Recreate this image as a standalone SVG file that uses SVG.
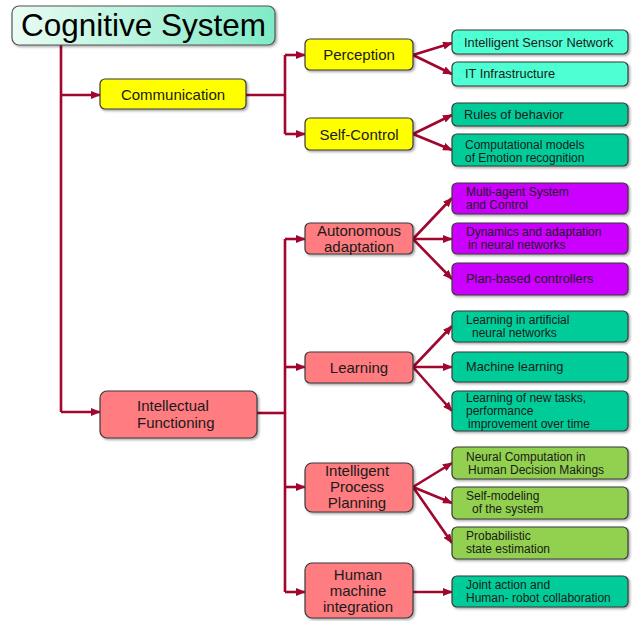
<svg xmlns="http://www.w3.org/2000/svg" width="635" height="621" viewBox="0 0 635 621">
<style>
.box{stroke:#3a3a3a;stroke-width:1.2;filter:url(#sh)}
.yel{fill:#FFFF00}
.pink{fill:#FF7C80}
.cyan{fill:#4DFFD2}
.teal{fill:#00CC99}
.mag{fill:#CC00FF}
.grn{fill:#92D050}
.t{font-family:"Liberation Sans",Arial,sans-serif;fill:#1a1a1a}
.mid{font-size:15px;text-anchor:middle}
.ch{font-size:12.8px}
.ch2{font-size:12px}
.c{fill:none;stroke:#A0062E;stroke-width:2.6}
.a{fill:none;stroke:#A0062E;stroke-width:2.6;marker-end:url(#ah)}
</style>
<defs>
<linearGradient id="tg" x1="0" y1="0" x2="1" y2="0">
<stop offset="0" stop-color="#EAFBF3"/>
<stop offset="1" stop-color="#7EEBC6"/>
</linearGradient>
<marker id="ah" markerWidth="10" markerHeight="8" refX="9" refY="4" orient="auto" markerUnits="userSpaceOnUse">
<path d="M0,0 L10,4 L0,8 Z" fill="#A0062E"/>
</marker>
<filter id="sh" x="-10%" y="-10%" width="125%" height="140%">
<feDropShadow dx="1.5" dy="1.5" stdDeviation="1" flood-color="#000" flood-opacity="0.35"/>
</filter>
</defs>

<g id="connectors">
<polyline class="c" points="61,45 61,412"/>
<polyline class="a" points="61,95 100,95"/>
<polyline class="a" points="61,412 100,412"/>
<polyline class="c" points="246,95 285,95"/>
<polyline class="c" points="285,55 285,134"/>
<polyline class="a" points="285,55 305,55"/>
<polyline class="a" points="285,134 305,134"/>
<polyline class="a" points="413,55 452,43"/>
<polyline class="a" points="413,55 452,74"/>
<polyline class="a" points="413,134 452,115"/>
<polyline class="a" points="413,134 452,150"/>
<polyline class="c" points="257,413 285,413"/>
<polyline class="c" points="285,239 285,592"/>
<polyline class="a" points="285,239 305,239"/>
<polyline class="a" points="285,367 305,367"/>
<polyline class="a" points="285,487 305,487"/>
<polyline class="a" points="285,592 305,592"/>
<polyline class="a" points="413,239 452,198"/>
<polyline class="a" points="413,239 452,239"/>
<polyline class="a" points="413,239 452,279"/>
<polyline class="a" points="413,367 452,326"/>
<polyline class="a" points="413,367 452,367"/>
<polyline class="a" points="413,367 452,411"/>
<polyline class="a" points="413,487 452,463"/>
<polyline class="a" points="413,487 452,503"/>
<polyline class="a" points="413,487 452,543"/>
<polyline class="a" points="413,592 452,592"/>
</g>

<g id="cognitive-system">
<rect x="12" y="6" width="263" height="39" rx="7" fill="url(#tg)" stroke="#555" stroke-width="1.2" filter="url(#sh)"/>
<text x="143.5" y="36" font-family="Liberation Sans, Arial, sans-serif" font-size="31.5" fill="#000" text-anchor="middle">Cognitive System</text>
</g>

<g id="communication">
<rect class="box yel" x="100" y="79" width="146" height="30" rx="5"/>
<text class="t mid" x="173" y="100">Communication</text>
</g>

<g id="perception">
<rect class="box yel" x="305" y="39" width="108" height="31" rx="5"/>
<text class="t mid" x="359" y="60">Perception</text>
</g>

<g id="self-control">
<rect class="box yel" x="305" y="118" width="108" height="32" rx="5"/>
<text class="t mid" x="359" y="140">Self-Control</text>
</g>

<g id="intelligent-sensor-network">
<rect class="box cyan" x="452" y="30" width="176" height="24" rx="5"/>
<text class="t ch" x="464" y="47">Intelligent  Sensor Network</text>
</g>

<g id="it-infrastructure">
<rect class="box cyan" x="452" y="62" width="176" height="24" rx="5"/>
<text class="t ch" x="465" y="78">IT Infrastructure</text>
</g>

<g id="rules-of-behavior">
<rect class="box teal" x="452" y="103" width="176" height="23" rx="5"/>
<text class="t ch" x="464" y="119">Rules of behavior</text>
</g>

<g id="computational-models">
<rect class="box teal" x="452" y="134" width="176" height="32" rx="5"/>
<text class="t ch2" x="465" y="148.5">Computational models</text>
<text class="t ch2" x="465" y="161.5">of Emotion recognition</text>
</g>

<g id="intellectual-functioning">
<rect class="box pink" x="100" y="391" width="157" height="47" rx="7"/>
<text class="t" x="137" y="411" font-size="15">Intellectual</text>
<text class="t" x="137" y="428" font-size="15">Functioning</text>
</g>

<g id="autonomous-adaptation">
<rect class="box pink" x="305" y="223" width="108" height="31" rx="5"/>
<text class="t mid" x="359" y="236">Autonomous</text>
<text class="t mid" x="359" y="252">adaptation</text>
</g>

<g id="learning">
<rect class="box pink" x="305" y="352" width="108" height="31" rx="5"/>
<text class="t mid" x="359" y="373">Learning</text>
</g>

<g id="intelligent-process-planning">
<rect class="box pink" x="305" y="463" width="108" height="49" rx="7"/>
<text class="t mid" x="357" y="476">Intelligent</text>
<text class="t mid" x="357" y="492">Process</text>
<text class="t mid" x="357" y="508">Planning</text>
</g>

<g id="human-machine-integration">
<rect class="box pink" x="305" y="563" width="108" height="55" rx="7"/>
<text class="t mid" x="358" y="580">Human</text>
<text class="t mid" x="358" y="596">machine</text>
<text class="t mid" x="358" y="612">integration</text>
</g>

<g id="multi-agent-system">
<rect class="box mag" x="452" y="183" width="176" height="31" rx="5"/>
<text class="t ch2" x="466" y="195.5">Multi-agent System</text>
<text class="t ch2" x="466" y="208.5">and Control</text>
</g>

<g id="dynamics-adaptation">
<rect class="box mag" x="452" y="223" width="176" height="31" rx="5"/>
<text class="t ch2" x="466" y="235.5">Dynamics and adaptation</text>
<text class="t ch2" x="468" y="248.5">in neural networks</text>
</g>

<g id="plan-based-controllers">
<rect class="box mag" x="452" y="263" width="176" height="32" rx="5"/>
<text class="t ch" x="466" y="283">Plan-based controllers</text>
</g>

<g id="learning-ann">
<rect class="box teal" x="452" y="311" width="176" height="31" rx="5"/>
<text class="t ch2" x="466" y="323.5">Learning in artificial</text>
<text class="t ch2" x="472" y="336.5">neural networks</text>
</g>

<g id="machine-learning">
<rect class="box teal" x="452" y="352" width="176" height="30" rx="5"/>
<text class="t ch" x="466" y="371">Machine learning</text>
</g>

<g id="learning-new-tasks">
<rect class="box teal" x="452" y="391" width="176" height="40" rx="5"/>
<text class="t ch2" x="466" y="401.5">Learning of new tasks,</text>
<text class="t ch2" x="466" y="414.5">performance</text>
<text class="t ch2" x="468" y="427.5">improvement over time</text>
</g>

<g id="neural-computation">
<rect class="box grn" x="452" y="447" width="176" height="32" rx="5"/>
<text class="t ch2" x="466" y="460.5">Neural Computation in</text>
<text class="t ch2" x="468" y="473.5">Human Decision Makings</text>
</g>

<g id="self-modeling">
<rect class="box grn" x="452" y="487" width="176" height="32" rx="5"/>
<text class="t ch2" x="466" y="500">Self-modeling</text>
<text class="t ch2" x="472" y="513">of the system</text>
</g>

<g id="probabilistic-state-estimation">
<rect class="box grn" x="452" y="527" width="176" height="32" rx="5"/>
<text class="t ch2" x="466" y="540">Probabilistic</text>
<text class="t ch2" x="466" y="553">state estimation</text>
</g>

<g id="joint-action">
<rect class="box teal" x="452" y="576" width="176" height="31" rx="5"/>
<text class="t ch2" x="466" y="588.5">Joint action and</text>
<text class="t ch2" x="466" y="601.5">Human- robot collaboration</text>
</g>
</svg>
